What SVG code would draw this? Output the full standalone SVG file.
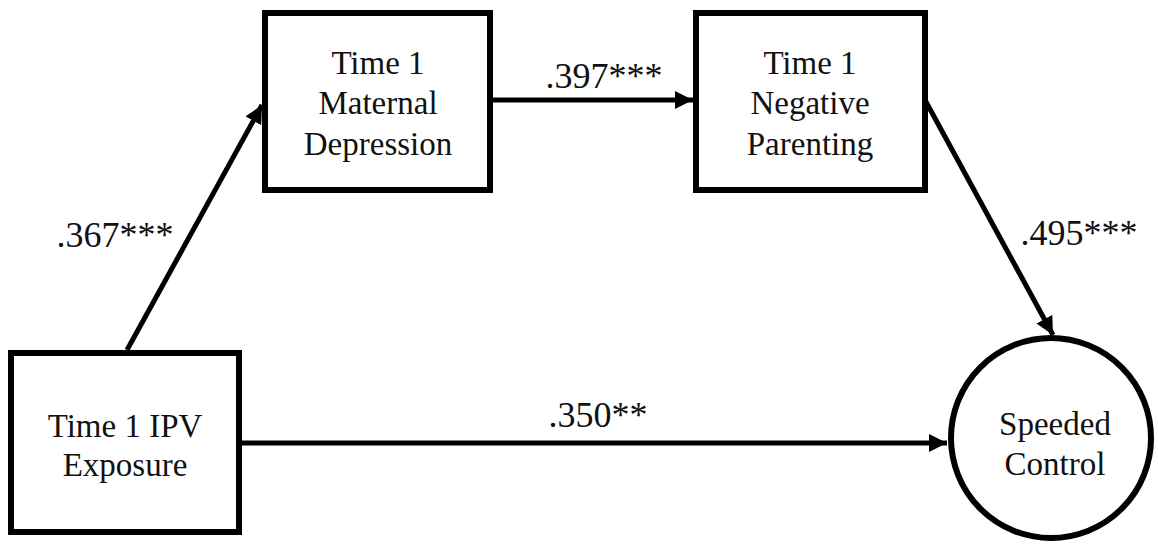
<svg xmlns="http://www.w3.org/2000/svg" width="1158" height="548" viewBox="0 0 1158 548">
<style>
.box{fill:#fff;stroke:#000;stroke-width:6}
.nt{font-family:"Liberation Serif","Times New Roman",serif;font-size:33px;fill:#111;text-anchor:middle}
.lb{font-family:"Liberation Serif","Times New Roman",serif;font-size:36px;fill:#111;text-anchor:middle}
.cn{stroke:#000;stroke-width:5;fill:none;marker-end:url(#ah)}
</style>
<defs>
<marker id="ah" markerUnits="userSpaceOnUse" markerWidth="20" markerHeight="18" refX="18" refY="9" orient="auto">
<path d="M0,0 L18,9 L0,18 Z" fill="#000"/>
</marker>
</defs>
<rect width="1158" height="548" fill="#fff"/>
<g id="connectors">
<line class="cn" x1="127" y1="350" x2="262" y2="105"/>
<line class="cn" x1="493" y1="100" x2="693" y2="100"/>
<line class="cn" x1="925" y1="100" x2="1053" y2="335"/>
<line class="cn" x1="242" y1="443" x2="947" y2="443"/>
<text class="lb" x="115" y="247">.367***</text>
<text class="lb" x="604" y="88">.397***</text>
<text class="lb" x="1079" y="245">.495***</text>
<text class="lb" x="598" y="427">.350**</text>
</g>
<g id="ipv">
<rect class="box" x="11" y="353" width="228" height="179"/>
<text class="nt" x="125" y="437">Time 1 IPV</text>
<text class="nt" x="125" y="476">Exposure</text>
</g>
<g id="maternal">
<rect class="box" x="265" y="13" width="225" height="177"/>
<text class="nt" x="378" y="74">Time 1</text>
<text class="nt" x="378" y="114">Maternal</text>
<text class="nt" x="378" y="155">Depression</text>
</g>
<g id="negative">
<rect class="box" x="696" y="13" width="229" height="177"/>
<text class="nt" x="810" y="74">Time 1</text>
<text class="nt" x="810" y="114">Negative</text>
<text class="nt" x="810" y="155">Parenting</text>
</g>
<g id="speeded">
<circle class="box" cx="1051" cy="438" r="100"/>
<text class="nt" x="1055" y="435">Speeded</text>
<text class="nt" x="1055" y="475">Control</text>
</g>
</svg>
